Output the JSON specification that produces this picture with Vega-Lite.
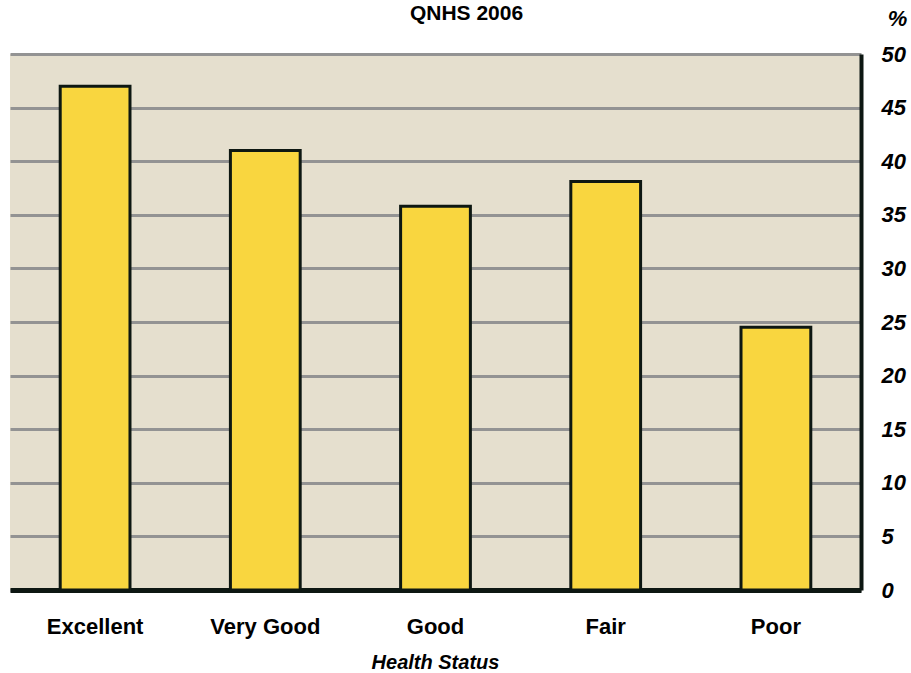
{
  "$schema": "https://vega.github.io/schema/vega-lite/v6.json",
  "autosize": "none",
  "width": 851,
  "height": 536,
  "padding": {"left": 10, "top": 54, "right": 50, "bottom": 83},
  "background": "white",
  "title": {
    "text": "QNHS 2006",
    "font": "Liberation Sans",
    "fontSize": 21,
    "fontWeight": "bold",
    "color": "#000000",
    "anchor": "middle",
    "baseline": "top",
    "offset": 0,
    "dx": 31,
    "dy": 17
  },
  "data": {
    "values": [
      {"status": "Excellent", "pct": 47.0},
      {"status": "Very Good", "pct": 41.0},
      {"status": "Good", "pct": 35.8},
      {"status": "Fair", "pct": 38.1},
      {"status": "Poor", "pct": 24.5}
    ]
  },
  "config": {
    "view": {"stroke": null, "fill": "#E5DFCE"},
    "font": "Liberation Sans"
  },
  "mark": {"type": "bar", "fill": "#F9D63F", "stroke": "#0D1712", "strokeWidth": 3},
  "encoding": {
    "x": {
      "field": "status",
      "type": "nominal",
      "sort": null,
      "scale": {"paddingInner": 0.59, "paddingOuter": 0.295},
      "axis": {
        "title": "Health Status",
        "titleFont": "Liberation Sans",
        "titleFontSize": 20,
        "titleFontWeight": "bold",
        "titleFontStyle": "italic",
        "titleColor": "#000000",
        "titleBaseline": "alphabetic",
        "titleX": 425,
        "titleY": 78,
        "labelAngle": 0,
        "labelFont": "Liberation Sans",
        "labelFontSize": 22,
        "labelFontWeight": "bold",
        "labelColor": "#000000",
        "labelPadding": 26,
        "ticks": false,
        "domainColor": "#0D1712",
        "domainWidth": 5
      }
    },
    "y": {
      "field": "pct",
      "type": "quantitative",
      "scale": {"domain": [0, 50], "nice": false},
      "axis": {
        "orient": "right",
        "values": [0, 5, 10, 15, 20, 25, 30, 35, 40, 45, 50],
        "title": "%",
        "titleAngle": 0,
        "titleAlign": "center",
        "titleBaseline": "middle",
        "titleX": 36,
        "titleY": -36,
        "titleFont": "Liberation Sans",
        "titleFontSize": 22,
        "titleFontWeight": "bold",
        "titleFontStyle": "italic",
        "titleColor": "#000000",
        "labelFont": "Liberation Sans",
        "labelFontSize": 22,
        "labelFontWeight": "bold",
        "labelFontStyle": "italic",
        "labelColor": "#000000",
        "labelAlign": "left",
        "labelPadding": 20,
        "ticks": false,
        "domainColor": "#0D1712",
        "domainWidth": 4,
        "grid": true,
        "gridColor": "#939393",
        "gridWidth": 3
      }
    }
  }
}
